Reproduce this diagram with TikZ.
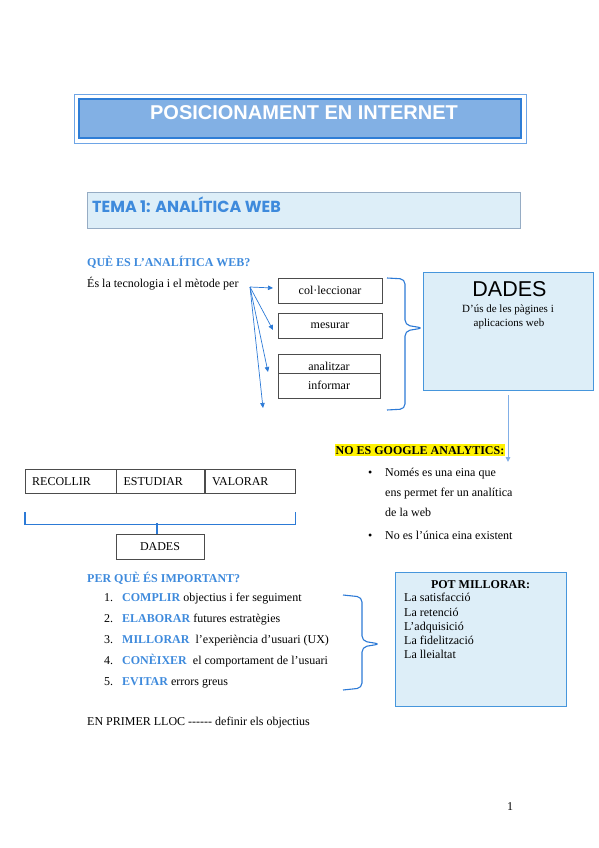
\documentclass[tikz,border=0pt]{standalone}
\usepackage{fontspec}
\setmainfont{Liberation Serif}
\newfontfamily\arialfont{Liberation Sans}
\newfontfamily\poppinsfont{Poppins}
\usepackage{tikz}
\usetikzlibrary{arrows.meta,positioning,calc,fit}

\definecolor{titlefill}{RGB}{130,176,228}
\definecolor{titleline}{RGB}{46,125,214}
\definecolor{framelight}{RGB}{110,165,230}
\definecolor{paleblue}{RGB}{221,238,248}
\definecolor{temaline}{RGB}{150,172,196}
\definecolor{headblue}{RGB}{62,138,220}
\definecolor{arrowblue}{RGB}{44,122,214}
\definecolor{boxline}{RGB}{70,150,220}

\newcommand{\kw}[1]{\textcolor{headblue}{\textbf{#1}}}

\begin{document}
\begin{tikzpicture}[x=1pt,y=-1pt,
    txt/.style={anchor=base west, inner sep=0pt, font=\fontsize{12}{14}\selectfont},
    head/.style={txt, font=\fontsize{12}{14}\selectfont\bfseries, text=headblue},
    wordbox/.style={draw=black!70, minimum width=104pt, minimum height=25pt, inner sep=0pt, font=\fontsize{12}{14}\selectfont},
    rowbox/.style={draw=black!70, minimum height=24pt, inner xsep=7pt, inner ysep=0pt, align=left, font=\fontsize{12}{14}\selectfont},
    infobox/.style={draw=boxline, fill=paleblue, line width=0.9pt},
    arr/.style={-{Triangle[length=5pt,width=4.5pt]}, arrowblue, line width=0.7pt},
    clau/.style={arrowblue, line width=1.1pt, rounded corners=5pt}
]
\useasboundingbox (0,0) rectangle (599,848);

% capcalera
\node[draw=titleline, fill=titlefill, line width=1.2pt, minimum width=442pt, minimum height=39pt] (titol) at (300,118.5) {};
\node[draw=framelight, line width=0.6pt, fit=(titol), inner sep=4.5pt] (marc) {};
\node[anchor=base, inner sep=0pt, text=white, font=\arialfont\bfseries\fontsize{20}{22}\selectfont] (titoltext) at (304,120) {POSICIONAMENT EN INTERNET};

\node[draw=temaline, fill=paleblue, line width=0.8pt, minimum width=433pt, minimum height=36pt] (tema) at (303.5,210) {};
\node[anchor=base west, inner sep=0pt, text=headblue, font=\poppinsfont\bfseries\fontsize{16}{18}\selectfont] (tematext) at (92,212) {TEMA 1: ANALÍTICA WEB};

% que es
\node[head] (que) at (87,266) {QUÈ ES L’ANALÍTICA WEB?};
\node[txt] (defi) at (87,287) {És la tecnologia i el mètode per};

\node[wordbox] (col) at (330,290.5) {col·leccionar};
\node[wordbox] (mes) at (330,325.5) {mesurar};
\node[wordbox, minimum width=102pt, minimum height=24pt] (ana) at (329,366) {};
\node[anchor=base, inner sep=0pt, font=\fontsize{12}{14}\selectfont] (anatext) at (329,370) {analitzar};
\node[wordbox, fill=white, minimum width=102pt, minimum height=25pt] (inf) at (329,385.5) {informar};

\coordinate (origen) at (250,287);
\coordinate (t1) at (273,288);
\coordinate (t2) at (273,330);
\coordinate (t3) at (268,372);
\coordinate (t4) at (263,408);
\foreach \t in {t1,t2,t3,t4}
  \draw[arr] (origen) -- (\t);

\draw[clau] (387,278) -- (405,279) -- (405,325) -- (423,328) -- (405,331) -- (405,409) -- (387,410);

\node[infobox, minimum width=170pt, minimum height=118pt] (dades) at (508,331) {};
\node[anchor=base, inner sep=0pt, font=\arialfont\fontsize{21.5}{24}\selectfont] (dadestext) at (509.5,296) {DADES};
\node[anchor=base, inner sep=0pt, font=\fontsize{11}{13}\selectfont] (dadesdesc) at (508,312) {D’ús de les pàgines i};
\node[anchor=base, inner sep=0pt, font=\fontsize{11}{13}\selectfont] (dadesdesc2) at (509,326) {aplicacions web};

\coordinate (gatip) at (508,462);
\draw[arr, arrowblue!60, line width=0.9pt, shorten <=5pt] (dades.south) -- (gatip);

% google analytics
\node[txt, fill=yellow, inner xsep=0.5pt, inner ysep=2pt, font=\fontsize{12}{14}\selectfont\bfseries] (ga) at (335,454) {NO ES GOOGLE ANALYTICS:};
\foreach \y/\b/\s in {476/1/Només es una eina que, 496/0/ens permet fer un analítica, 516/0/de la web, 539/1/No es l’única eina existent}{
  \ifnum\b=1 \node[txt] at (368,\y) {•}; \fi
  \node[txt] at (385,\y) {\s};
}

% recollir
\node[rowbox, text width=77pt, anchor=north west] (recollir) at (25,469) {RECOLLIR};
\node[rowbox, text width=74pt, right=0pt of recollir] (estudiar) {ESTUDIAR};
\node[rowbox, text width=76pt, right=0pt of estudiar] (valorar) {VALORAR};
\node[rowbox, minimum width=88pt, minimum height=25pt, align=center] (dades2) at (160,546.5) {DADES};
\draw[arrowblue, line width=1.1pt] ([yshift=-19pt]recollir.south west) -- ++(0,12) -| ([yshift=-19pt]valorar.south east);
\draw[arrowblue, line width=1.1pt] (dades2.north -| 157,0) -- ++(0,-11);

% per que
\node[head] (perque) at (87,582) {PER QUÈ ÉS IMPORTANT?};
\foreach \n/\y/\s in {1/601/{\kw{COMPLIR} objectius i fer seguiment},
                      2/622/{\kw{ELABORAR} futures estratègies},
                      3/643/{\kw{MILLORAR}\ \ l’experiència d’usuari (UX)},
                      4/664/{\kw{CONÈIXER}\ \ el comportament de l’usuari},
                      5/685/{\kw{EVITAR} errors greus}}{
  \node[txt] (num\n) at (104,\y) {\n.};
  \node[txt] (item\n) at (122,\y) {\s};
}

\draw[clau] (343,595) -- (362,597) -- (362,641) -- (380,644) -- (362,647) -- (362,688) -- (343,690);

\node[infobox, minimum width=171pt, minimum height=134pt] (millorar) at (480.5,639) {};
\node[anchor=base, inner sep=0pt, font=\fontsize{12}{14}\selectfont\bfseries] (millorartitol) at (480.5,588) {POT MILLORAR:};
\foreach \y/\s in {601/La satisfacció, 616/La retenció, 630/L’adquisició, 644/La fidelització, 658/La lleialtat}
  \node[txt] at (404,\y) {\s};

\node[txt] (primer) at (87,725) {EN PRIMER LLOC {-}{-}{-}{-}{-}{-} definir els objectius};
\node[txt] (pagina) at (507,810) {1};
\end{tikzpicture}
\end{document}
